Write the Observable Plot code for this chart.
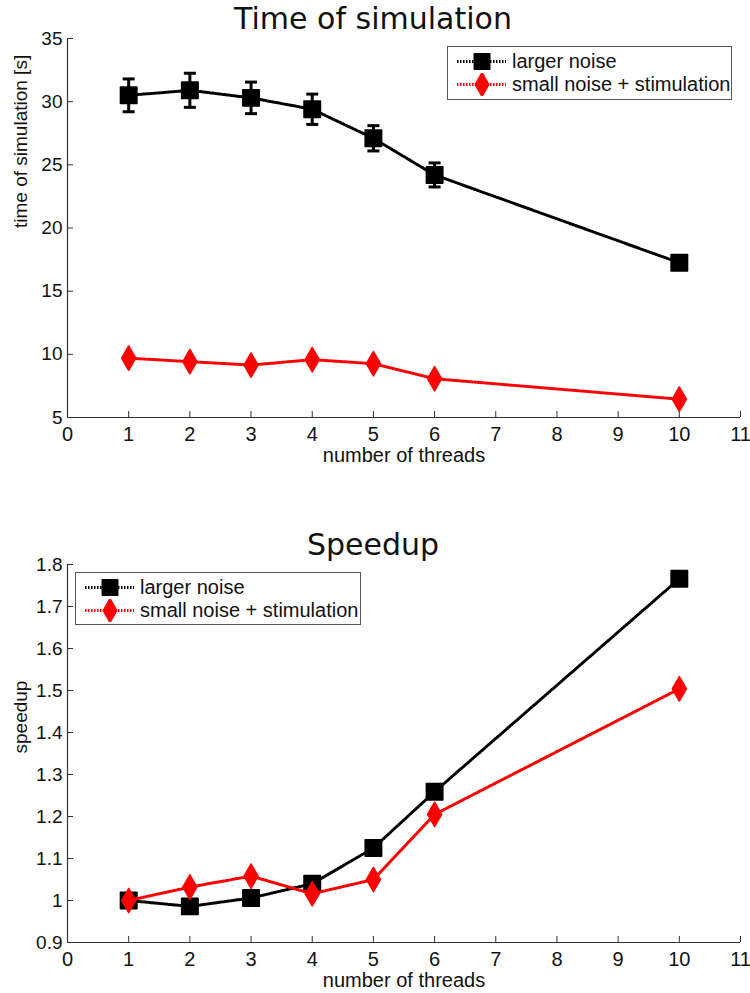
<!DOCTYPE html>
<html>
<head>
<meta charset="utf-8">
<script src="https://cdn.jsdelivr.net/npm/d3@7"></script>
<script src="https://cdn.jsdelivr.net/npm/@observablehq/plot@0.6"></script>
<style>
  body { margin: 0; background: #fff; }
  #wrap { position: relative; width: 750px; height: 993px; }
  #wrap svg.plot { display: block; }
  .legend {
    position: absolute; background: #fff; border: 1px solid #555;
    font-family: "Liberation Sans", Arial, sans-serif; font-size: 20px; color: #111;
    box-sizing: border-box;
  }
  .legend .row { position: absolute; left: 0; height: 23px; display: flex; align-items: center; white-space: nowrap; }
  .legend svg { display: block; }
</style>
</head>
<body>
<div id="wrap"></div>
<script>
// Number of threads used in each run
const threads = [1, 2, 3, 4, 5, 6, 10];

// Simulation time [s]
const timeLarger    = [30.5, 30.9, 30.3, 29.4, 27.1, 24.2, 17.25];
const timeLargerErr = [1.3, 1.35, 1.25, 1.2, 1.0, 0.95, 0.5];
const timeSmall     = [9.7, 9.42, 9.15, 9.58, 9.26, 8.07, 6.45];

// Speedup relative to one thread
const speedLarger = [1.0, 0.986, 1.006, 1.04, 1.125, 1.259, 1.766];
const speedSmall  = [1.0, 1.032, 1.058, 1.016, 1.05, 1.205, 1.504];

// Series names and tick values
const seriesNames = ["larger noise", "small noise + stimulation"];
const seriesColors = ["#000000", "#ff0000"];
const xTicks = [0, 1, 2, 3, 4, 5, 6, 7, 8, 9, 10, 11];
const timeTicks = [5, 10, 15, 20, 25, 30, 35];
const speedTicks = [0.9, 1.0, 1.1, 1.2, 1.3, 1.4, 1.5, 1.6, 1.7, 1.8];

const FONT = "'Liberation Sans', Arial, sans-serif";
const TITLE_FONT = "'DejaVu Sans', sans-serif";
const AXIS = "#333";
const dash = "1.5,1.5";

// horizontal cap for error bars
const capSymbol = { draw(ctx) { ctx.moveTo(-6, 0); ctx.lineTo(6, 0); } };

function chart(opts) {
  const { title, ylabel, yDomain, yTicks, larger, largerErr, small, height, marginTop, marginBottom } = opts;
  const marginLeft = 67, marginRight = 10, width = 750;
  const innerH = height - marginTop - marginBottom;
  const innerW = width - marginLeft - marginRight;
  const rowsL = threads.map((t, i) => ({ t, v: larger[i], e: largerErr ? largerErr[i] : null }));
  const rowsS = threads.map((t, i) => ({ t, v: small[i] }));
  const errMarks = largerErr ? [
    Plot.ruleX(rowsL, { x: "t", y1: d => d.v - d.e, y2: d => d.v + d.e, stroke: seriesColors[0], strokeWidth: 3 }),
    Plot.dot(rowsL, { x: "t", y: d => d.v - d.e, symbol: capSymbol, r: 4, stroke: seriesColors[0], strokeWidth: 3, fill: "none" }),
    Plot.dot(rowsL, { x: "t", y: d => d.v + d.e, symbol: capSymbol, r: 4, stroke: seriesColors[0], strokeWidth: 3, fill: "none" })
  ] : [];
  return Plot.plot({
    width, height, marginLeft, marginRight, marginTop, marginBottom,
    style: { fontFamily: FONT, fontSize: "20px", color: "#111", background: "#fff", overflow: "visible" },
    x: { type: "linear", domain: [0, 11] },
    y: { type: "linear", domain: yDomain },
    marks: [
      // inward ticks
      Plot.tickX(xTicks, { x: d => d, insetTop: innerH - 6, stroke: AXIS, strokeWidth: 1 }),
      Plot.tickY(yTicks, { y: d => d, insetRight: innerW - 6, stroke: AXIS, strokeWidth: 1 }),
      // axis lines
      Plot.ruleX([0], { stroke: AXIS, strokeWidth: 1.2 }),
      Plot.ruleY([yDomain[0]], { stroke: AXIS, strokeWidth: 1.2 }),
      Plot.axisX(xTicks, { tickSize: 0, tickPadding: 9, label: null, fontSize: 20, fill: "#111" }),
      Plot.axisY(yTicks, { tickSize: 0, tickPadding: 5, label: null, fontSize: 19, fill: "#111",
        tickFormat: d => String(Math.round(d * 10) / 10) }),
      // larger noise
      ...errMarks,
      Plot.line(rowsL, { x: "t", y: "v", stroke: seriesColors[0], strokeWidth: 3, strokeDasharray: dash }),
      Plot.dot(rowsL, { x: "t", y: "v", symbol: "square", r: 9.3, fill: seriesColors[0], stroke: seriesColors[0], strokeWidth: 1.5, strokeLinejoin: "round" }),
      // small noise + stimulation
      Plot.line(rowsS, { x: "t", y: "v", stroke: seriesColors[1], strokeWidth: 3, strokeDasharray: dash }),
      Plot.dot(rowsS, { x: "t", y: "v", symbol: "diamond", r: 7.4, fill: seriesColors[1], stroke: seriesColors[1], strokeWidth: 1.5, strokeLinejoin: "round" }),
      // titles
      Plot.text([title], { frameAnchor: "top", dy: -19, dx: -31, lineAnchor: "middle", fontSize: 30, fontFamily: TITLE_FONT, fill: "#111" }),
      Plot.text(["number of threads"], { frameAnchor: "bottom", dy: 38, lineAnchor: "middle", fontSize: 20, fill: "#111" }),
      Plot.text([ylabel], { frameAnchor: "left", dx: -47, rotate: -90, lineAnchor: "middle", fontSize: 19, fill: "#111" })
    ]
  });
}

function legend(left, top, w, h) {
  const el = document.createElement("div");
  el.className = "legend";
  Object.assign(el.style, { left: left + "px", top: top + "px", width: w + "px", height: h + "px" });
  seriesNames.forEach((name, i) => {
    const row = document.createElement("div");
    row.className = "row";
    row.style.top = (3 + i * 23) + "px";
    const svg = d3.create("svg").attr("width", 64).attr("height", 23);
    svg.append("line").attr("x1", 9).attr("x2", 58).attr("y1", 11.5).attr("y2", 11.5)
      .attr("stroke", seriesColors[i]).attr("stroke-width", 3).attr("stroke-dasharray", dash);
    const sym = i === 0 ? d3.symbolSquare : d3.symbolDiamond;
    const size = i === 0 ? 240 : 160;
    svg.append("path").attr("transform", "translate(34,11.5)")
      .attr("d", d3.symbol(sym, size)())
      .attr("fill", seriesColors[i]).attr("stroke", seriesColors[i])
      .attr("stroke-width", 1.5).attr("stroke-linejoin", "round");
    row.appendChild(svg.node());
    const label = document.createElement("span");
    label.textContent = name;
    row.appendChild(label);
    el.appendChild(row);
  });
  return el;
}

const wrap = document.getElementById("wrap");
const top1 = chart({
  title: "Time of simulation", ylabel: "time of simulation [s]",
  yDomain: [5, 35], yTicks: timeTicks,
  larger: timeLarger, largerErr: timeLargerErr, small: timeSmall,
  height: 490, marginTop: 38, marginBottom: 73
});
const top2 = chart({
  title: "Speedup", ylabel: "speedup",
  yDomain: [0.9, 1.8], yTicks: speedTicks,
  larger: speedLarger, largerErr: null, small: speedSmall,
  height: 503, marginTop: 74, marginBottom: 51
});
wrap.appendChild(top1);
wrap.appendChild(top2);
wrap.appendChild(legend(447, 46, 285, 54));
wrap.appendChild(legend(75, 572, 286, 53));
</script>
</body>
</html>
